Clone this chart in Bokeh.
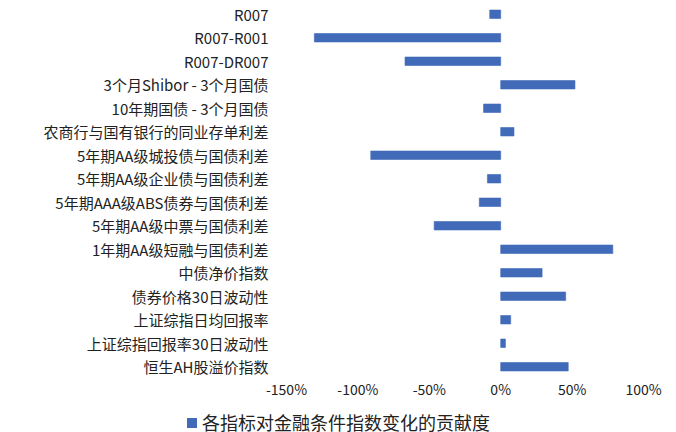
from bokeh.plotting import figure
from bokeh.layouts import column
from bokeh.models import FactorRange, Range1d, FixedTicker, PrintfTickFormatter, Div
from bokeh.embed import file_html
from bokeh.resources import INLINE

categories = [
    "R007",
    "R007-R001",
    "R007-DR007",
    "3个月Shibor - 3个月国债",
    "10年期国债 - 3个月国债",
    "农商行与国有银行的同业存单利差",
    "5年期AA级城投债与国债利差",
    "5年期AA级企业债与国债利差",
    "5年期AAA级ABS债券与国债利差",
    "5年期AA级中票与国债利差",
    "1年期AA级短融与国债利差",
    "中债净价指数",
    "债券价格30日波动性",
    "上证综指日均回报率",
    "上证综指回报率30日波动性",
    "恒生AH股溢价指数",
]
contribution = [-7.7, -130.5, -67.0, 52.0, -12.0, 9.3, -91.0, -9.3, -15.0, -46.6,
                78.5, 29.0, 45.5, 7.0, 3.3, 47.3]
x_ticks = [-150, -100, -50, 0, 50, 100]
series_name = "各指标对金融条件指数变化的贡献度"

FONT = "Noto Sans CJK SC"
BLUE = "#416bb9"

p = figure(frame_width=357, frame_height=376, output_backend="svg", toolbar_location=None,
           y_range=FactorRange(factors=categories[::-1], range_padding=0),
           x_range=Range1d(-150, 100),
           min_border_left=286, min_border_right=33, min_border_top=2, min_border_bottom=24)

r = p.hbar(y=categories, right=contribution, left=0, height=0.36,
           fill_color=BLUE, line_color=BLUE, line_alpha=0.6, line_width=1)

p.xgrid.visible = False
p.ygrid.visible = False
p.outline_line_color = None

p.xaxis.ticker = FixedTicker(ticks=x_ticks)
p.xaxis.formatter = PrintfTickFormatter(format="%d%%")
for ax in (p.xaxis[0], p.yaxis[0]):
    ax.axis_line_color = None
    ax.major_tick_line_color = None
    ax.minor_tick_line_color = None
    ax.major_tick_out = 0
    ax.major_tick_in = 0
    ax.minor_tick_out = 0
    ax.minor_tick_in = 0
    ax.major_label_text_font = FONT
    ax.major_label_text_color = "#222222"
p.xaxis.major_label_text_font_size = "14px"
p.xaxis.major_label_standoff = 0
p.yaxis.major_label_text_font_size = "15px"
p.yaxis.major_label_standoff = 18

# legend strip below the chart
legend_html = (
    '<div style="position:relative;width:676px;height:30px;overflow:hidden;'
    "font-family:'Noto Sans CJK SC';font-size:18px;color:#222222;\">"
    '<span style="position:absolute;left:187px;top:16px;width:10px;height:10px;'
    'background:%s;"></span>'
    '<span style="position:absolute;left:202px;top:10px;line-height:20px;'
    'white-space:nowrap;">%s</span></div>' % (BLUE, series_name)
)
legend_div = Div(text=legend_html, width=676, height=30, margin=0)

layout = column(p, legend_div, spacing=0)
open("out.html", "w").write(file_html(layout, INLINE))
